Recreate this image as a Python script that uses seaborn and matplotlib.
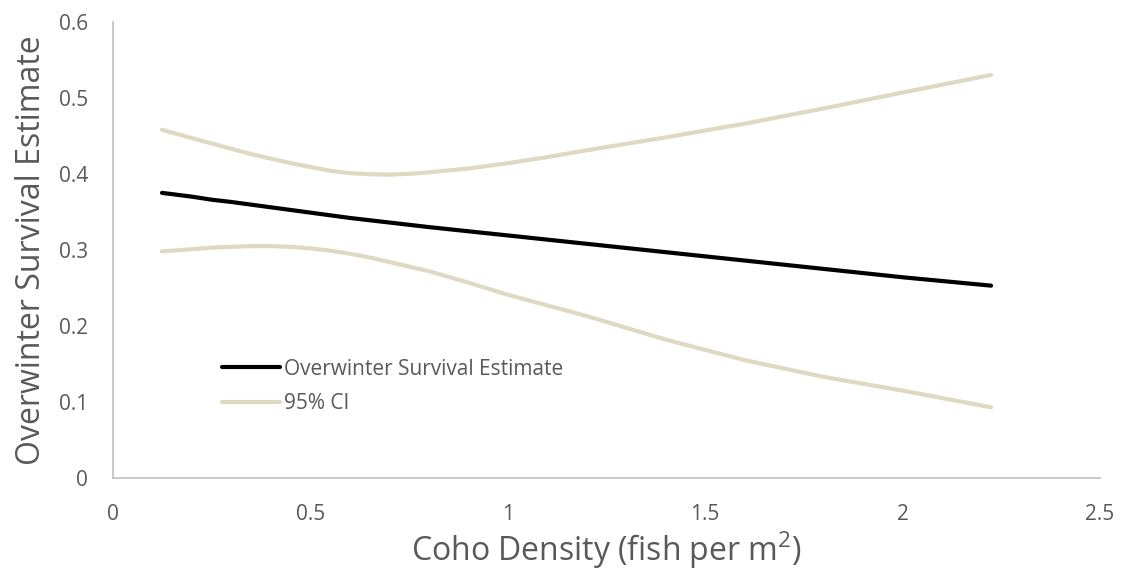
import numpy as np
import pandas as pd
import matplotlib
matplotlib.use("Agg")
import matplotlib.pyplot as plt
from matplotlib.lines import Line2D
import seaborn as sns

# Coho density (fish per m^2) and modelled overwinter survival with 95% CI
density = [0.124, 0.2, 0.25, 0.3, 0.35, 0.4, 0.45, 0.5, 0.55, 0.6, 0.65, 0.7,
           0.75, 0.8, 0.9, 1.0, 1.1, 1.2, 1.4, 1.6, 1.8, 2.0, 2.224]
estimate = [0.375, 0.370, 0.366, 0.363, 0.3595, 0.356, 0.3525, 0.349, 0.3455, 0.342,
            0.339, 0.336, 0.333, 0.330, 0.3245, 0.319, 0.3135, 0.308, 0.297, 0.286,
            0.275, 0.264, 0.253]
ci_upper = [0.458, 0.447, 0.440, 0.433, 0.426, 0.420, 0.414, 0.409, 0.404, 0.401,
            0.3995, 0.399, 0.400, 0.402, 0.407, 0.414, 0.422, 0.431, 0.448, 0.466,
            0.486, 0.507, 0.530]
ci_lower = [0.298, 0.301, 0.303, 0.304, 0.305, 0.305, 0.304, 0.302, 0.299, 0.295,
            0.290, 0.284, 0.278, 0.272, 0.257, 0.241, 0.227, 0.213, 0.182, 0.155,
            0.133, 0.115, 0.093]

x_ticks = [0, 0.5, 1, 1.5, 2, 2.5]
y_ticks = [0, 0.1, 0.2, 0.3, 0.4, 0.5, 0.6]
x_tick_labels = ["0", "0.5", "1", "1.5", "2", "2.5"]
y_tick_labels = ["0", "0.1", "0.2", "0.3", "0.4", "0.5", "0.6"]

df = pd.DataFrame({"density": density, "estimate": estimate,
                   "upper": ci_upper, "lower": ci_lower})

sns.set_style("white")
plt.rcParams["font.family"] = ["Open Sans", "DejaVu Sans"]
plt.rcParams["mathtext.default"] = "regular"

text_grey = "#595959"
ci_color = "#DDD9C3"

fig = plt.figure(figsize=(11.28, 5.79), dpi=100)
ax = fig.add_axes([0.1002, 0.1744, 0.875, 0.788])

line_kw = dict(solid_capstyle="round", solid_joinstyle="round")
sns.lineplot(data=df, x="density", y="upper", ax=ax, color=ci_color, lw=3.0, **line_kw)
sns.lineplot(data=df, x="density", y="lower", ax=ax, color=ci_color, lw=3.0, **line_kw)
sns.lineplot(data=df, x="density", y="estimate", ax=ax, color="black", lw=3.0, **line_kw)

ax.set_xlim(0, 2.5)
ax.set_ylim(0, 0.6)
ax.set_xticks(x_ticks)
ax.set_xticklabels(x_tick_labels)
ax.set_yticks(y_ticks)
ax.set_yticklabels(y_tick_labels)
ax.tick_params(axis="both", length=0, labelsize=15, labelcolor=text_grey)
ax.tick_params(axis="x", pad=19)
ax.tick_params(axis="y", pad=18)

for side in ["top", "right"]:
    ax.spines[side].set_visible(False)
for side in ["left", "bottom"]:
    ax.spines[side].set_color("#BFBFBF")
    ax.spines[side].set_linewidth(1.2)

ax.set_xlabel("Coho Density (fish per m$^2$)", fontsize=23, color=text_grey, labelpad=3)
ax.set_ylabel("Overwinter Survival Estimate", fontsize=23, color=text_grey, labelpad=8)

handles = [Line2D([], [], color="black", lw=3.0, solid_capstyle="round"),
           Line2D([], [], color=ci_color, lw=3.0, solid_capstyle="round")]
leg = ax.legend(handles, ["Overwinter Survival Estimate", "95% CI"],
                loc="center left", bbox_to_anchor=(0.1104, 0.2007), frameon=False,
                borderpad=0, borderaxespad=0,
                fontsize=15, handlelength=2.8, handletextpad=0.2, labelspacing=0.65)
for t in leg.get_texts():
    t.set_color(text_grey)

fig.savefig("out.png", dpi=100, facecolor="white")
